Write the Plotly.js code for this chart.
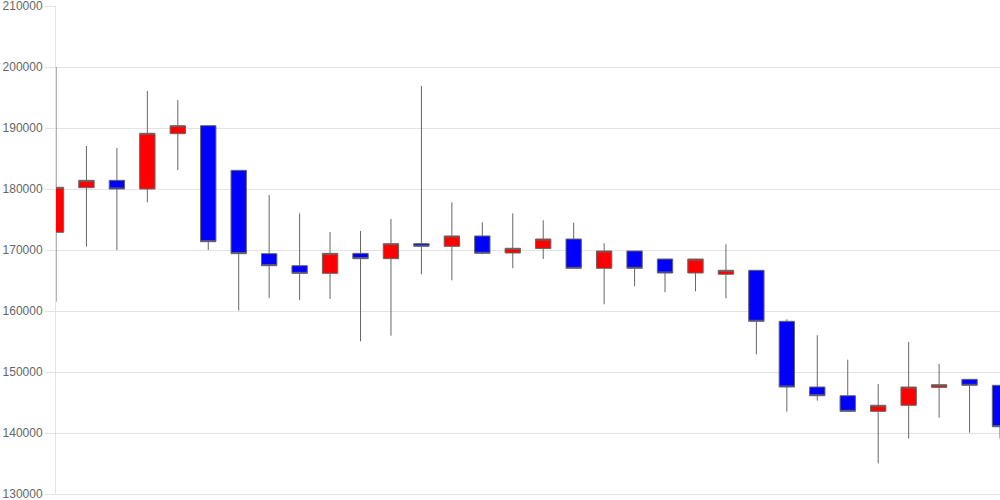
<!DOCTYPE html>
<html>
<head>
<meta charset="utf-8">
<script src="https://cdn.plot.ly/plotly-3.0.1.min.js"></script>
<style>html,body{margin:0;padding:0;background:#fff}#chart{width:1000px;height:500px}</style>
</head>
<body>
<div id="chart"></div>
<script>
const sessions = [1,2,3,4,5,6,7,8,9,10,11,12,13,14,15,16,17,18,19,20,21,22,23,24,25,26,27,28,29,30,31,32];
const openP  = [172900,180220,181420,180000,189070,190380,183060,169400,167430,166170,169450,168580,171040,170600,172300,169510,170250,171800,167000,169840,168520,166230,166020,166670,158310,147540,146110,143550,144540,147480,148800,147820];
const highP  = [200000,187050,186720,196070,194590,190380,183060,179020,176010,172950,173110,175080,196890,177820,174540,176010,174870,174480,171100,169840,168520,168520,170930,166670,158640,156020,152020,148030,154920,151310,148800,147820];
const lowP   = [161530,170540,170000,177820,183110,170000,160050,162080,161800,161970,155030,155950,166010,165030,169300,167000,168520,167000,161100,164050,163070,163230,162080,152900,143490,145300,143550,135020,139070,142510,140050,139070];
const closeP = [180280,181420,180000,189130,190380,171360,169400,167430,166170,169450,168580,171040,170600,172300,169460,170280,171800,167000,169840,167000,166230,168520,166670,158310,147540,146110,143550,144540,147540,147920,147820,141030];
const yTicks = [130000,140000,150000,160000,170000,180000,190000,200000,210000];

const xIdx = sessions.map((s, i) => i);

const trace = {
  type: 'candlestick',
  x: xIdx,
  open: openP, high: highP, low: lowP, close: closeP,
  increasing: {fillcolor: '#ff0000', line: {color: '#666666', width: 1}},
  decreasing: {fillcolor: '#0000ff', line: {color: '#666666', width: 1}},
  whiskerwidth: 0,
  hoverinfo: 'skip',
  showlegend: false
};

const layout = {
  width: 1000, height: 500,
  margin: {l: 56, r: 0, t: 6, b: 6, pad: 0},
  paper_bgcolor: '#ffffff', plot_bgcolor: '#ffffff',
  boxgap: 0.28,
  font: {family: 'Liberation Sans, Arial, sans-serif', size: 12, color: '#666666'},
  xaxis: {
    range: [0, 31], showgrid: false, zeroline: false, showticklabels: false,
    ticks: '', showline: true, linecolor: '#e3e3e3', linewidth: 1,
    rangeslider: {visible: false}, fixedrange: true
  },
  yaxis: {
    range: [130000, 210000], tickvals: yTicks, ticktext: yTicks.map(String),
    showgrid: true, gridcolor: '#e3e3e3', gridwidth: 1, zeroline: false,
    showline: true, linecolor: '#e3e3e3', linewidth: 1,
    ticks: 'outside', ticklen: 10, tickcolor: '#e3e3e3', tickwidth: 1,
    ticklabeloverflow: 'allow',
    tickfont: {family: 'Liberation Sans, Arial, sans-serif', size: 12, color: '#666666'},
    fixedrange: true
  },
  hovermode: false
};

Plotly.newPlot('chart', [trace], layout, {displayModeBar: false, staticPlot: true});
</script>
</body>
</html>
